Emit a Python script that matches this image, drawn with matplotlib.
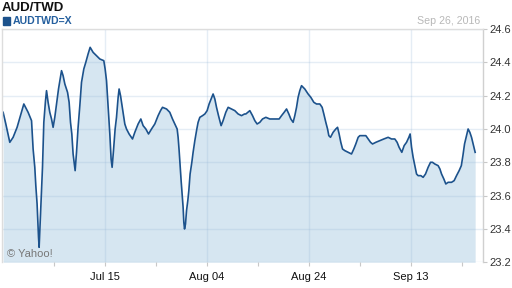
import numpy as np
import pandas as pd
import matplotlib
matplotlib.use("Agg")
from matplotlib import pyplot as plt
import matplotlib.dates as mdates
from matplotlib.patches import Rectangle

plt.rcParams['font.family'] = ['Liberation Sans', 'DejaVu Sans']

# dias desde el 25 de junio de 2016 y cotizacion AUD/TWD
dias = np.array([
    0.12, 0.65, 1.43, 2.08, 2.86, 3.53, 4.18, 5.02, 5.69, 6.00, 6.33, 6.53, 6.78,
    7.06, 7.18, 7.45, 7.65, 7.84, 8.10, 8.43, 8.63, 8.94, 9.27, 9.61, 9.92, 10.25,
    10.59, 10.98, 11.24, 11.57, 11.88, 12.22, 12.75, 13.06, 13.33, 13.59, 13.84,
    14.24, 14.51, 14.82, 15.16, 15.49, 15.94, 16.33, 16.78, 17.18, 17.76, 18.43,
    19.08, 19.86, 20.12, 20.39, 20.71, 21.04, 21.29, 21.49, 21.76, 22.08, 22.35,
    22.67, 22.86, 23.14, 23.53, 23.98, 24.31, 24.82, 25.49, 25.94, 26.59, 27.12,
    27.57, 28.10, 28.63, 29.22, 29.86, 30.51, 30.98, 31.37, 32.16, 32.80, 33.33,
    33.78, 34.24, 34.43, 34.63, 34.82, 35.02, 35.22, 35.41, 35.55, 35.69, 35.88,
    36.08, 36.33, 36.53, 36.78, 37.12, 37.37, 37.71, 38.10, 38.35, 38.69, 39.22,
    39.67, 40.12, 40.51, 40.90, 41.29, 41.63, 41.96, 42.35, 42.86, 43.25, 43.78,
    44.24, 44.90, 45.55, 46.20, 46.86, 47.45, 47.71, 48.49, 49.02, 49.47, 49.92,
    50.45, 50.98, 51.63, 52.41, 53.39, 54.24, 54.71, 55.22, 55.69, 56.14, 56.53,
    56.98, 57.31, 57.65, 57.96, 58.29, 58.63, 59.27, 59.92, 60.45, 61.04, 61.57,
    62.22, 62.67, 63.00, 63.39, 63.73, 63.98, 64.31, 64.82, 65.35, 65.69, 66.00,
    66.33, 66.67, 67.12, 67.76, 68.43, 68.88, 69.27, 69.73, 70.06, 71.24, 71.69,
    72.16, 72.55, 73.20, 73.98, 74.76, 75.61, 76.27, 76.92, 77.37, 77.76, 78.29,
    78.75, 79.22, 79.67, 79.92, 80.20, 80.51, 80.84, 81.18, 81.49, 82.02, 82.47,
    82.94, 83.45, 83.92, 84.31, 84.76, 85.41, 85.76, 86.08, 86.53, 86.92, 87.37,
    88.04, 88.55, 89.02, 89.53, 89.96, 90.27, 90.59, 90.98, 91.29, 91.63, 91.96,
    92.27, 92.67])
cotizacion = np.array([
    24.10, 24.03, 23.92, 23.95, 24.01, 24.08, 24.15, 24.10, 24.05, 23.88, 23.77, 23.66, 23.55,
    23.35, 23.29, 23.49, 23.63, 23.77, 24.04, 24.17, 24.23, 24.16, 24.10, 24.06, 24.01, 24.07,
    24.15, 24.24, 24.29, 24.35, 24.32, 24.27, 24.22, 24.16, 24.04, 23.97, 23.85,
    23.75, 23.86, 24.01, 24.14, 24.28, 24.36, 24.40, 24.45, 24.49, 24.46, 24.44,
    24.42, 24.41, 24.36, 24.29, 24.13, 23.97, 23.82, 23.77, 23.87, 24.00, 24.07,
    24.19, 24.24, 24.20, 24.12, 24.03, 24.00, 23.97, 23.94, 23.98, 24.03, 24.06,
    24.02, 24.00, 23.97, 24.00, 24.03, 24.08, 24.11, 24.13, 24.12, 24.10, 24.06,
    24.03, 24.00, 23.95, 23.87, 23.78, 23.69, 23.61, 23.53, 23.44, 23.40, 23.43,
    23.51, 23.57, 23.63, 23.73, 23.80, 23.86, 23.93, 24.00, 24.04, 24.07, 24.08,
    24.09, 24.11, 24.15, 24.18, 24.21, 24.18, 24.13, 24.08, 24.02, 24.05, 24.10,
    24.13, 24.12, 24.11, 24.09, 24.08, 24.09, 24.09, 24.11, 24.08, 24.05, 24.03,
    24.04, 24.06, 24.07, 24.06, 24.06, 24.06, 24.08, 24.10, 24.12, 24.09, 24.06,
    24.04, 24.08, 24.13, 24.19, 24.23, 24.26, 24.24, 24.21, 24.19, 24.16, 24.15,
    24.15, 24.13, 24.09, 24.04, 24.00, 23.96, 23.95, 23.98, 24.00, 24.01, 23.97,
    23.92, 23.88, 23.87, 23.86, 23.85, 23.88, 23.91, 23.95, 23.96, 23.96, 23.94,
    23.92, 23.91, 23.92, 23.93, 23.94, 23.95, 23.94, 23.94, 23.92, 23.89, 23.86,
    23.90, 23.92, 23.95, 23.97, 23.89, 23.83, 23.78, 23.73, 23.72, 23.72, 23.71,
    23.73, 23.77, 23.80, 23.80, 23.79, 23.78, 23.76, 23.73, 23.70, 23.67, 23.68,
    23.68, 23.69, 23.72, 23.75, 23.78, 23.84, 23.91, 23.96, 24.00, 23.98, 23.95,
    23.91, 23.86])

inicio = pd.Timestamp('2016-06-25')
fechas = inicio + pd.to_timedelta(dias, unit='D')

y_ticks = [23.2, 23.4, 23.6, 23.8, 24.0, 24.2, 24.4, 24.6]
x_ticks = ['2016-07-15', '2016-08-04', '2016-08-24', '2016-09-13']
x_menores = ['2016-07-05', '2016-07-25', '2016-08-14', '2016-09-03', '2016-09-23']

azul = '#1c528c'
relleno = '#d6e6f1'

fig = plt.figure(figsize=(5.12, 2.88), dpi=100)
ax = fig.add_axes([2/512, (288-262.3)/288, (482.7-2)/512, (262.3-29)/288])

ax.fill_between(fechas, cotizacion, 23.2, color=relleno, linewidth=0)
ax.plot(fechas, cotizacion, color=azul, linewidth=1.2)

ax.set_ylim(23.2, 24.6)
x0 = mdates.date2num(inicio) - 0.1
ax.set_xlim(x0, x0 + 94.25)

# ejes
ax.yaxis.tick_right()
ax.set_yticks(y_ticks)
ax.set_yticklabels(['%.1f' % v for v in y_ticks])
ax.set_xticks(mdates.date2num(pd.to_datetime(x_ticks)))
ax.set_xticklabels([pd.Timestamp(t).strftime('%b %d') for t in x_ticks])
ax.set_xticks(mdates.date2num(pd.to_datetime(x_menores)), minor=True)
ax.tick_params(axis='y', which='both', length=3, width=0.8, color='#c8c8c8',
               labelsize=8, labelcolor='#333333', pad=1.5)
ax.tick_params(axis='x', which='both', length=3, width=0.8, color='#c8c8c8',
               labelsize=8, labelcolor='#111111', pad=4)

ax.grid(True, color=(0.6, 0.72, 0.85), alpha=0.25, linewidth=1.0)

for lado in ['top', 'left']:
    ax.spines[lado].set_color('#dddddd')
    ax.spines[lado].set_linewidth(1.0)
ax.spines['right'].set_color('#d0d0d0')
ax.spines['right'].set_linewidth(1.0)
ax.spines['bottom'].set_visible(False)

# textos
fig.text(2/512, 1 - 10.7/288, 'AUD/TWD', fontsize=9.5, fontweight='bold',
         color='#111111', ha='left', va='baseline')
fig.patches.append(Rectangle((2.7/512, 1 - 25/288), 7.5/512, 8/288,
                             transform=fig.transFigure, color=azul))
fig.text(13/512, 1 - 24.5/288, 'AUDTWD=X', fontsize=7.6, fontweight='bold',
         color='#245f9e', ha='left', va='baseline')
fig.text(480/512, 1 - 23.5/288, 'Sep 26, 2016', fontsize=7.7, color='#b8b8b8',
         ha='right', va='baseline')
ax.text(5/480.7, 5/233.3, '\u00a9 Yahoo!', transform=ax.transAxes,
        fontsize=8, color='#777777', ha='left', va='baseline')

plt.savefig('out.png', dpi=100)
